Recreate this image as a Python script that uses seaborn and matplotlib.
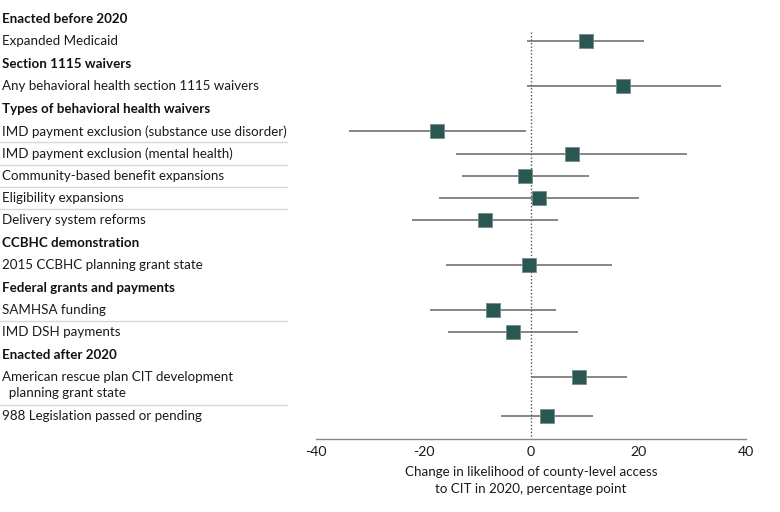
import matplotlib
matplotlib.use('Agg')
from matplotlib import pyplot as plt
from matplotlib import transforms
import seaborn as sns
import numpy as np
import pandas as pd

# groups and row labels
groups = ['Enacted before 2020', 'Section 1115 waivers', 'Types of behavioral health waivers',
          'CCBHC demonstration', 'Federal grants and payments', 'Enacted after 2020']
group_rows = [
    ['Expanded Medicaid'],
    ['Any behavioral health section 1115 waivers'],
    ['IMD payment exclusion (substance use disorder)', 'IMD payment exclusion (mental health)',
     'Community-based benefit expansions', 'Eligibility expansions', 'Delivery system reforms'],
    ['2015 CCBHC planning grant state'],
    ['SAMHSA funding', 'IMD DSH payments'],
    ['American rescue plan CIT development\n  planning grant state', '988 Legislation passed or pending'],
]

# estimates and 95% CI, percentage points
estimate = [10.2, 17.2, -17.4, 7.6, -1.1, 1.4, -8.6, -0.4, -7.1, -3.3, 8.9, 3.0]
ci_low = [-0.8, -0.8, -33.8, -14.0, -12.9, -17.2, -22.1, -15.9, -18.8, -15.4, 0.0, -5.5]
ci_high = [21.1, 35.3, -0.9, 29.0, 10.7, 20.0, 5.1, 15.0, 4.6, 8.8, 17.8, 11.5]

xticks = [-40, -20, 0, 20, 40]

# row layout (slot units)
header_pos = []
row_pos = []
row_names = []
row_group = []
y = 0.0
for gi, (g, rows) in enumerate(zip(groups, group_rows)):
    if gi > 0:
        y += 0.05
    header_pos.append(y)
    y += 1
    for r in rows:
        row_pos.append(y)
        row_names.append(r)
        row_group.append(gi)
        y += 1.75 if '\n' in r else 1

df = pd.DataFrame({'label': row_names, 'pos': row_pos, 'est': estimate,
                   'lo': ci_low, 'hi': ci_high, 'group': row_group})

sns.set_style('white')
plt.rcParams['font.family'] = ['Lato', 'DejaVu Sans']

fig = plt.figure(figsize=(7.8, 5.12), dpi=100)
ax = fig.add_axes([316 / 780, 73 / 512, 430 / 780, 431 / 512])

slot = 22.05
ax.set_ylim((439 - 19) / slot, (8 - 19) / slot)
ax.set_xlim(-40, 40)

# zero reference line
ax.plot([0, 0], [row_pos[0] - 0.4, ax.get_ylim()[0]], color='#555555', lw=1,
        ls=(0, (1, 1.5)), zorder=1)

# confidence intervals
ax.hlines(df['pos'], df['lo'], df['hi'], color='#666666', lw=1.1, zorder=2)

sns.scatterplot(data=df, x='est', y='pos', marker='s', s=95, color='#2b5753',
                edgecolor='#6f8f8c', linewidth=0.6, zorder=3, ax=ax, legend=False)

fs = 9.6
ax.set_yticks([])
ax.set_ylabel('')
ax.set_xticks(xticks)
ax.set_xticklabels([str(t) for t in xticks], fontsize=10.2)
ax.tick_params(axis='x', direction='in', length=4, color='#888888', width=1, pad=5,
               labelcolor='#1a1a1a')
for s in ['top', 'right', 'left']:
    ax.spines[s].set_visible(False)
ax.spines['bottom'].set_color('#888888')
ax.spines['bottom'].set_linewidth(1)
ax.set_xlabel('Change in likelihood of county-level access\nto CIT in 2020, percentage point',
              fontsize=fs, color='#1a1a1a', labelpad=6, linespacing=1.45)

# left-side labels
tr = transforms.blended_transform_factory(fig.transFigure, ax.transData)
for g, p in zip(groups, header_pos):
    ax.text(2 / 780, p, g, transform=tr, fontsize=fs, fontweight='bold',
            va='center', ha='left', color='#111111')
for i, r in df.iterrows():
    lines = r['label'].split('\n')
    for k, line in enumerate(lines):
        ax.text(2 / 780, r['pos'] + k * 0.73, line, transform=tr, fontsize=fs,
                va='center', ha='left', color='#1a1a1a')

# separators between rows inside a group
for i in range(len(df) - 1):
    if df['group'][i] == df['group'][i + 1]:
        ymid = df['pos'][i + 1] - 0.5
        ax.plot([0, 287 / 780], [ymid, ymid], transform=tr, color='#d8d8d8', lw=1,
                clip_on=False)

fig.savefig('out.png', dpi=100)
